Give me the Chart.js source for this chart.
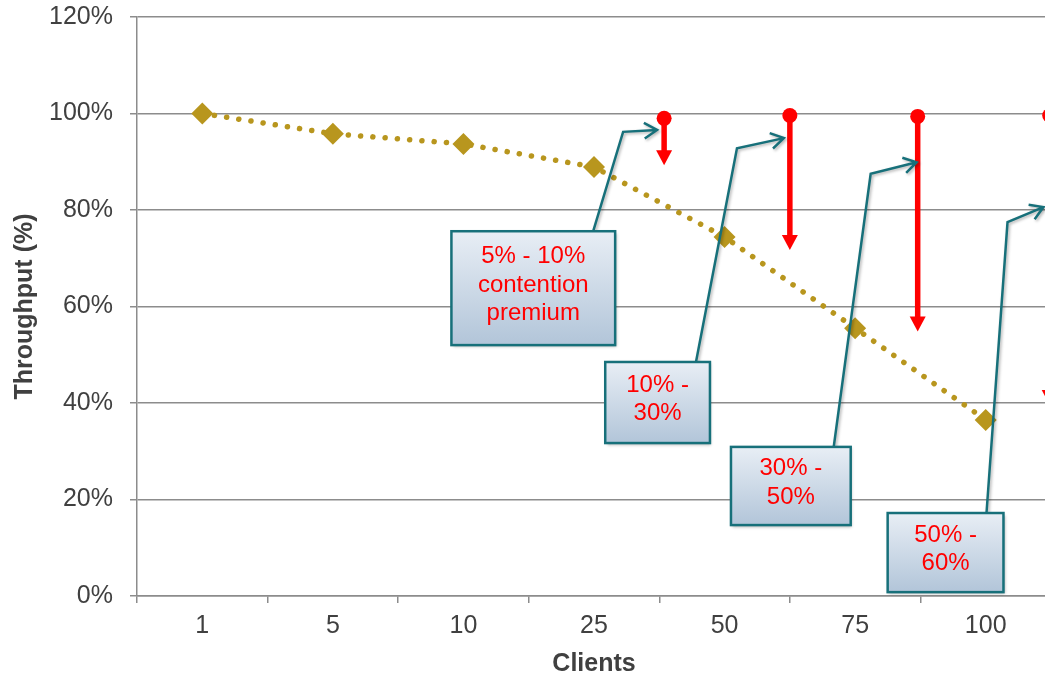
<!DOCTYPE html>
<html>
<head>
<meta charset="utf-8">
<script src="https://cdn.jsdelivr.net/npm/chart.js@4.4.1/dist/chart.umd.min.js"></script>
<style>
  html, body { margin: 0; padding: 0; background: #fff; overflow: hidden; }
  #wrap { width: 1062px; height: 679px; }
</style>
</head>
<body>
<div id="wrap"><canvas id="chart" width="1062" height="679"></canvas></div>
<script>
// data
const clients = ['1', '5', '10', '25', '50', '75', '100'];
const throughput = [100, 95.8, 93.7, 88.9, 74.4, 55.5, 36.5];
const yTicks = [0, 20, 40, 60, 80, 100, 120];

// contention premium arrows, x = category index (they sit between columns)
const premiumAt = [3.537, 4.5, 5.479, 6.49];
const premiumFrom = [99.0, 99.6, 99.4, 99.6];
const premiumTo = [89.3, 71.7, 54.8, 39.6];
const premiumLabels = [
  ['5% - 10%', 'contention', 'premium'],
  ['10% -', '30%'],
  ['30% -', '50%'],
  ['50% -', '60%']
];

// callout geometry in data units: box [x0, x1, yTop, yBottom], leader path points
const callouts = [
  { box: [1.908, 3.162, 75.6, 52.0], path: [[2.994, 75.6], [3.223, 96.2], [3.483, 96.6]] },
  { box: [3.086, 3.888, 48.5, 31.7], path: [[3.781, 48.5], [4.095, 92.8], [4.454, 94.9]] },
  { box: [4.049, 4.966, 30.9, 14.7], path: [[4.836, 30.9], [5.119, 87.5], [5.471, 89.9]] },
  { box: [5.249, 6.136, 17.2, 0.8], path: [[6.006, 17.2], [6.167, 77.5], [6.442, 80.6]] }
];

const FONT = "'Liberation Sans', Arial, sans-serif";
const GOLD = '#b8961e';
const TEAL = '#17707a';
const GRID = '#8c8c8c';

// red arrows + callout boxes
const annotations = {
  id: 'annotations',
  afterDatasetsDraw(chart) {
    const ctx = chart.ctx;
    const xs = chart.scales.x, ys = chart.scales.y;

    // red arrows
    premiumAt.forEach((v, i) => {
      const x = xs.getPixelForValue(v);
      const y0 = ys.getPixelForValue(premiumFrom[i]);
      const y1 = ys.getPixelForValue(premiumTo[i]);
      ctx.save();
      ctx.strokeStyle = '#ff0000';
      ctx.fillStyle = '#ff0000';
      ctx.lineWidth = 5.5;
      ctx.beginPath();
      ctx.moveTo(x, y0);
      ctx.lineTo(x, y1 - 13);
      ctx.stroke();
      ctx.beginPath();
      ctx.moveTo(x - 8, y1 - 15);
      ctx.lineTo(x + 8, y1 - 15);
      ctx.lineTo(x, y1);
      ctx.closePath();
      ctx.fill();
      ctx.beginPath();
      ctx.arc(x, y0, 7.5, 0, Math.PI * 2);
      ctx.fill();
      ctx.restore();
    });

    // callouts
    callouts.forEach((c, i) => {
      const bx0 = xs.getPixelForValue(c.box[0]);
      const bx1 = xs.getPixelForValue(c.box[1]);
      const by0 = ys.getPixelForValue(c.box[2]);
      const by1 = ys.getPixelForValue(c.box[3]);
      const pts = c.path.map(p => [xs.getPixelForValue(p[0]), ys.getPixelForValue(p[1])]);

      ctx.save();
      ctx.shadowColor = 'rgba(0,0,0,0.3)';
      ctx.shadowBlur = 3;
      ctx.shadowOffsetX = 1.5;
      ctx.shadowOffsetY = 1.5;
      ctx.strokeStyle = TEAL;
      ctx.lineWidth = 2.5;
      ctx.lineJoin = 'miter';
      ctx.beginPath();
      ctx.moveTo(pts[0][0], pts[0][1]);
      for (let k = 1; k < pts.length; k++) ctx.lineTo(pts[k][0], pts[k][1]);
      // open arrow head
      const [ax, ay] = pts[pts.length - 1];
      const [px, py] = pts[pts.length - 2];
      const ang = Math.atan2(ay - py, ax - px);
      const hl = 15, ha = 0.55;
      ctx.moveTo(ax - hl * Math.cos(ang - ha), ay - hl * Math.sin(ang - ha));
      ctx.lineTo(ax, ay);
      ctx.lineTo(ax - hl * Math.cos(ang + ha), ay - hl * Math.sin(ang + ha));
      ctx.stroke();

      const g = ctx.createLinearGradient(0, by0, 0, by1);
      g.addColorStop(0, '#e8eef5');
      g.addColorStop(1, '#b2c5d9');
      ctx.fillStyle = g;
      ctx.fillRect(bx0, by0, bx1 - bx0, by1 - by0);
      ctx.shadowColor = 'transparent';
      ctx.strokeRect(bx0, by0, bx1 - bx0, by1 - by0);

      const lines = premiumLabels[i];
      const lh = 28.5;
      const cx = (bx0 + bx1) / 2;
      const cy = (by0 + by1) / 2 - 3;
      ctx.fillStyle = '#ff0000';
      ctx.font = '24px ' + FONT;
      ctx.textAlign = 'center';
      ctx.textBaseline = 'middle';
      lines.forEach((t, k) => {
        ctx.fillText(t, cx, cy + (k - (lines.length - 1) / 2) * lh);
      });
      ctx.restore();
    });
  }
};

new Chart(document.getElementById('chart'), {
  type: 'line',
  data: {
    labels: clients,
    datasets: [{
      label: 'Throughput',
      data: throughput,
      borderColor: GOLD,
      borderWidth: 5.5,
      borderDash: [0.1, 12.2],
      borderCapStyle: 'round',
      tension: 0,
      fill: false,
      pointStyle: 'rectRot',
      pointRadius: 11,
      pointBackgroundColor: GOLD,
      pointBorderColor: GOLD,
      pointBorderWidth: 0
    }]
  },
  options: {
    responsive: false,
    animation: false,
    devicePixelRatio: 1,
    layout: { padding: { top: 17, right: 8, left: 0, bottom: 0 } },
    plugins: { legend: { display: false }, tooltip: { enabled: false } },
    scales: {
      x: {
        offset: true,
        grid: { offset: true, drawOnChartArea: false, drawTicks: true, tickLength: 7, color: GRID, lineWidth: 1.5 },
        border: { color: GRID, width: 1.5 },
        ticks: { color: '#404040', font: { family: FONT, size: 25 }, padding: 8 },
        title: { display: true, text: 'Clients', color: '#404040', font: { family: FONT, size: 25, weight: 'bold' }, padding: { top: 0, bottom: 0 } },
        afterFit(s) { s.height = 83; s.paddingLeft = 0; s.paddingRight = 0; }
      },
      y: {
        min: 0,
        max: 120,
        grid: { color: GRID, lineWidth: 1.5, tickLength: 7 },
        border: { color: GRID, width: 1.5 },
        ticks: { color: '#404040', font: { family: FONT, size: 25 }, padding: 17, callback: v => v + '%' },
        afterBuildTicks(s) { s.ticks = yTicks.map(v => ({ value: v })); },
        title: { display: true, text: 'Throughput (%)', color: '#404040', font: { family: FONT, size: 25, weight: 'bold' }, padding: { top: 10, bottom: 0 } },
        afterFit(s) { s.width = 137; s.paddingTop = 0; s.paddingBottom = 0; }
      }
    }
  },
  plugins: [annotations]
});
</script>
</body>
</html>
